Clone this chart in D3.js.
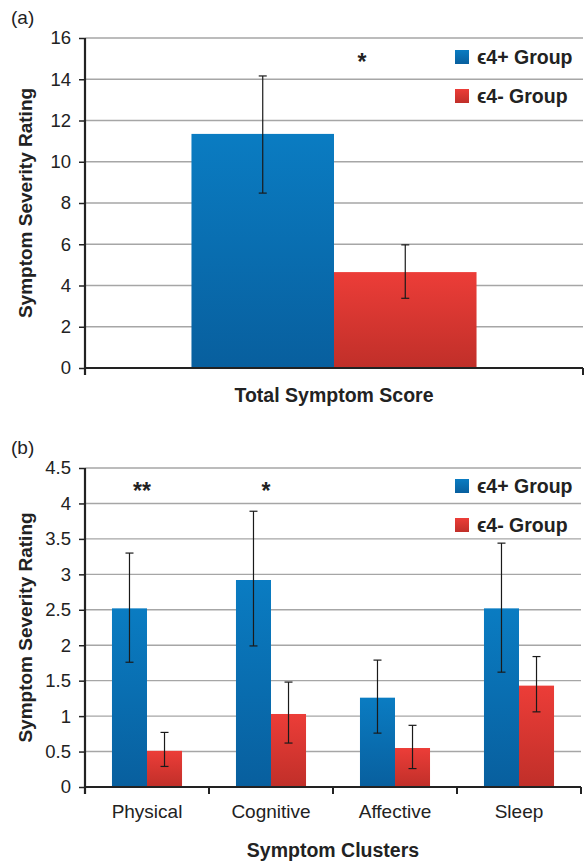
<!DOCTYPE html>
<html><head><meta charset="utf-8">
<script src="https://cdn.jsdelivr.net/npm/d3@7"></script>
<style>body{margin:0;background:#fff}svg{display:block;font-family:"Liberation Sans",Arial,Helvetica,sans-serif}</style>
</head><body><svg id="c" width="587" height="861"></svg>
<script>
const groups = ["\u03f54+ Group", "\u03f54- Group"];
// Panel (a)
const catsA = ["Total Symptom Score"];
const posA = [11.35];
const negA = [4.65];
const posAlo = [8.48], posAhi = [14.16];
const negAlo = [3.38], negAhi = [5.97];
const ticksA = [0,2,4,6,8,10,12,14,16];
const starsA = ["*"];
// Panel (b)
const catsB = ["Physical", "Cognitive", "Affective", "Sleep"];
const posB = [2.52, 2.92, 1.26, 2.52];
const negB = [0.51, 1.03, 0.55, 1.43];
const posBlo = [1.76, 1.99, 0.76, 1.62], posBhi = [3.30, 3.89, 1.79, 3.44];
const negBlo = [0.29, 0.62, 0.26, 1.06], negBhi = [0.77, 1.48, 0.87, 1.84];
const ticksB = [0,0.5,1,1.5,2,2.5,3,3.5,4,4.5];
const starsB = ["**", "*", "", ""];

const svg = d3.select("#c");
const defs = svg.append("defs");
function grad(id, c1, c2){
  const g = defs.append("linearGradient").attr("id", id).attr("x1",0).attr("y1",0).attr("x2",0).attr("y2",1);
  g.append("stop").attr("offset","0%").attr("stop-color",c1);
  g.append("stop").attr("offset","100%").attr("stop-color",c2);
}
grad("gb", "#0a7cc2", "#085f9e");
grad("gr", "#ec3d38", "#c02f29");
const fills = ["url(#gb)", "url(#gr)"];
const FS = 19;

function panel(cfg){
  const {top, bottom, left, right, cats, pos, neg, plo, phi, nlo, nhi, ticks, ymax, stars, tag, xlabel, tickLabels, padOuter} = cfg;
  const g = svg.append("g");
  const y = d3.scaleLinear().domain([0, ymax]).range([bottom, top]);
  const x = d3.scaleBand().domain(cats).range([left, right]).paddingInner(0).paddingOuter(0);
  const bw = x.bandwidth();
  const x1 = d3.scaleBand().domain([0,1]).range([0, bw]).paddingOuter(padOuter).paddingInner(0);
  // gridlines
  g.append("g").selectAll("line").data(ticks.filter(t=>t>0)).join("line")
    .attr("x1", left).attr("x2", right).attr("y1", d=>y(d)).attr("y2", d=>y(d))
    .attr("stroke", "#a6a6a6").attr("stroke-width", 1.4);
  // y axis
  const ya = g.append("g").attr("transform", `translate(${left},0)`)
    .call(d3.axisLeft(y).tickValues(ticks).tickSize(6).tickPadding(8).tickFormat(d=>String(d)));
  ya.select(".domain").remove();
  ya.selectAll(".tick line").attr("stroke", "#222").attr("stroke-width", 1.5);
  ya.selectAll(".tick text").attr("font-size", 18.5).attr("fill", "#222").attr("font-family", "Liberation Sans, Arial, sans-serif");
  g.append("line").attr("x1", left).attr("x2", left).attr("y1", top).attr("y2", bottom+7)
    .attr("stroke", "#222").attr("stroke-width", 2.2);
  // bars
  const series = [[pos, plo, phi], [neg, nlo, nhi]];
  series.forEach((s, si) => {
    g.append("g").selectAll("rect").data(cats).join("rect")
      .attr("x", d => x(d) + x1(si)).attr("width", x1.bandwidth())
      .attr("y", (d,i) => y(s[0][i])).attr("height", (d,i) => y(0) - y(s[0][i]))
      .attr("fill", fills[si]);
  });
  series.forEach((s, si) => {
    const eb = g.append("g").attr("stroke", "#1a1a1a").attr("stroke-width", 1.2);
    cats.forEach((c, i) => {
      const cx = x(c) + x1(si) + x1.bandwidth()/2;
      eb.append("line").attr("x1", cx).attr("x2", cx).attr("y1", y(s[1][i])).attr("y2", y(s[2][i]));
      eb.append("line").attr("x1", cx-4).attr("x2", cx+4).attr("y1", y(s[1][i])).attr("y2", y(s[1][i]));
      eb.append("line").attr("x1", cx-4).attr("x2", cx+4).attr("y1", y(s[2][i])).attr("y2", y(s[2][i]));
    });
  });
  // x axis
  g.append("line").attr("x1", left).attr("x2", right).attr("y1", bottom).attr("y2", bottom)
    .attr("stroke", "#222").attr("stroke-width", 2.2);
  const bounds = cats.map(c => x(c)).concat([right]);
  g.selectAll(".xt").data(bounds).join("line").attr("class","xt")
    .attr("x1", d=>d).attr("x2", d=>d).attr("y1", bottom).attr("y2", bottom+7)
    .attr("stroke", "#222").attr("stroke-width", 2);
  if (tickLabels) {
    g.selectAll(".xl").data(cats).join("text").attr("class","xl")
      .attr("x", d => x(d) + bw/2).attr("y", bottom + 31).attr("text-anchor","middle")
      .attr("font-size", FS).attr("fill", "#222").text(d=>d);
  }
  // stars
  g.selectAll(".st").data(cats).join("text").attr("class","st")
    .attr("x", d => x(d) + bw/2 + cfg.starDx).attr("y", cfg.starY).attr("text-anchor","middle")
    .attr("font-size", 23).attr("font-weight","bold").attr("fill","#222").text((d,i)=>stars[i]);
  // x label
  g.append("text").attr("x", (left+right)/2).attr("y", cfg.xlabY).attr("text-anchor","middle")
    .attr("font-size", 19.5).attr("font-weight","bold").attr("fill","#222").text(xlabel);
  // y label
  g.append("text").attr("transform", `translate(32,${(top+bottom)/2}) rotate(-90)`).attr("text-anchor","middle")
    .attr("font-size", FS).attr("font-weight","bold").attr("fill","#222").text("Symptom Severity Rating");
  // tag
  g.append("text").attr("x", 11).attr("y", cfg.tagY).attr("font-size", FS).attr("fill","#222").text(tag);
  // legend
  const lg = g.append("g");
  groups.forEach((gname, i) => {
    const ly = cfg.legY + i*39;
    lg.append("rect").attr("x", 455).attr("y", ly - 14).attr("width", 14).attr("height", 14).attr("fill", fills[i]);
    lg.append("text").attr("x", 477).attr("y", ly).attr("font-size", 19.5).attr("font-weight","bold").attr("fill","#222").text(gname);
  });
}

panel({top: 38, bottom: 368, left: 85, right: 583, cats: catsA, pos: posA, neg: negA,
  plo: posAlo, phi: posAhi, nlo: negAlo, nhi: negAhi, ticks: ticksA, ymax: 16, stars: starsA,
  tag: "(a)", xlabel: "Total Symptom Score", tickLabels: false, padOuter: 0.747,
  starDx: 28, starY: 70, xlabY: 402, tagY: 24, legY: 64});

panel({top: 468, bottom: 787, left: 85, right: 581, cats: catsB, pos: posB, neg: negB,
  plo: posBlo, phi: posBhi, nlo: negBlo, nhi: negBhi, ticks: ticksB, ymax: 4.5, stars: starsB,
  tag: "(b)", xlabel: "Symptom Clusters", tickLabels: true, padOuter: 0.77,
  starDx: -5, starY: 499, xlabY: 857, tagY: 454, legY: 493});
</script></body></html>
